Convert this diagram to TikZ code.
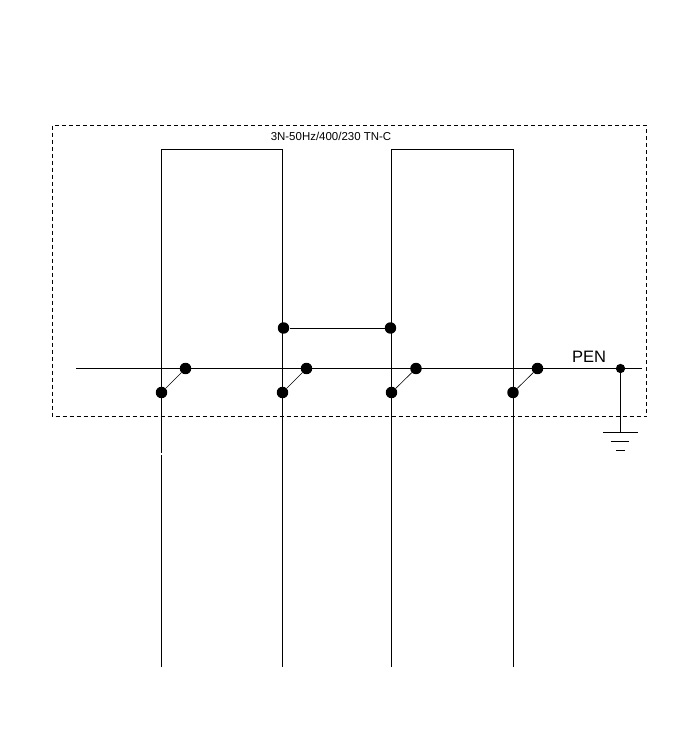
\documentclass[tikz,border=0pt]{standalone}
\usepackage{fontspec}
\setmainfont{Liberation Sans}
\tikzset{
  wire/.style={draw=black,line width=0.75pt},
  thinwire/.style={draw=black,line width=0.45pt},
  frame/.style={draw=black,line width=0.75pt,dash pattern=on 3pt off 2.25pt},
  dot/.style={circle,fill=black,draw=none,minimum size=8.6pt,inner sep=0pt},
  title/.style={font=\fontsize{8.6}{10}\selectfont,inner sep=0pt,text=black},
  lab/.style={font=\fontsize{12.4}{14}\selectfont,inner sep=0pt,text=black}
}
\begin{document}
\begin{tikzpicture}[x=0.75pt,y=-0.75pt]
\useasboundingbox (0,0) rectangle (696,729);
\fill[white] (0,0) rectangle (696,729);
% frame
\draw[frame] (52.5,125.5) rectangle (646.5,416.5);
\node[title] (t) at (331,136.5) {3N-50Hz/400/230 TN-C};
\node[lab] (pen) at (589,357) {PEN};
% coordinates
\coordinate (busL) at (76,368.5);
\coordinate (busR) at (642,368.5);
\coordinate (a1) at (161.5,149.5);
\coordinate (a2) at (282.5,149.5);
\coordinate (b1) at (391.5,149.5);
\coordinate (b2) at (513.5,149.5);
\coordinate (e1) at (161.5,667);
\coordinate (e2) at (282.5,667);
\coordinate (e3) at (391.5,667);
\coordinate (e4) at (513.5,667);
\coordinate (g1l) at (603,432.5);
\coordinate (g1r) at (638,432.5);
\coordinate (g2l) at (611,441.5);
\coordinate (g2r) at (629,441.5);
\coordinate (g3l) at (616,450.5);
\coordinate (g3r) at (625,450.5);
\coordinate (g) at (620.5,432.5);
\coordinate (gapa) at (161.5,452.5);
\coordinate (gapb) at (161.5,454.5);
% dots
\node[dot] (l1) at (161.5,392.5) {};
\node[dot] (l2) at (282.5,392.5) {};
\node[dot] (l3) at (391.5,392.5) {};
\node[dot] (l4) at (513,392.5) {};
\node[dot] (u1) at (185.5,368.5) {};
\node[dot] (u2) at (306.5,368.5) {};
\node[dot] (u3) at (416,368.5) {};
\node[dot] (u4) at (537.5,368.5) {};
\node[dot] (j1) at (283.5,328) {};
\node[dot] (j2) at (390.5,328) {};
\node[dot,minimum size=7pt] (p) at (620.5,368.5) {};
% wires
\draw[wire] (busL) -- (busR);
\draw[wire] (e1) -- (gapb);
\draw[wire] (gapa) -- (a1) -- (a2) -- (e2);
\draw[wire] (e3) -- (b1) -- (b2) -- (e4);
\draw[wire] (j1) -- (j2);
\draw[thinwire] (l1) -- (u1);
\draw[thinwire] (l2) -- (u2);
\draw[thinwire] (l3) -- (u3);
\draw[thinwire] (l4) -- (u4);
\draw[wire] (p) -- (g);
\draw[wire] (g1l) -- (g1r);
\draw[wire] (g2l) -- (g2r);
\draw[wire] (g3l) -- (g3r);
\end{tikzpicture}
\end{document}
